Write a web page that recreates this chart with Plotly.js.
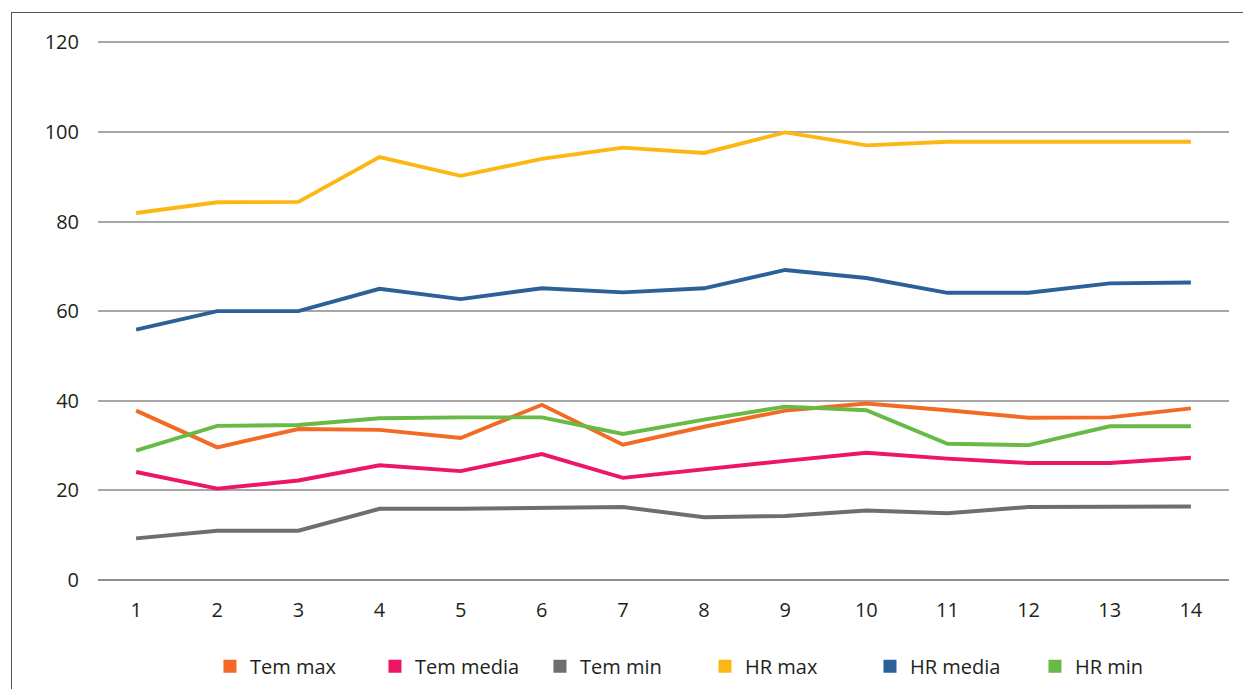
<!DOCTYPE html>
<html>
<head>
<meta charset="utf-8">
<script src="https://cdn.plot.ly/plotly-3.0.1.min.js"></script>
<style>
  html, body { margin: 0; padding: 0; background: #ffffff; overflow: hidden; }
  #frame { position: absolute; left: 11px; top: 12px; width: 1232px; height: 720px;
           border-left: 1.5px solid #555; border-top: 1.5px solid #555; box-sizing: border-box; }
  #chart { width: 1230px; height: 715px; }
</style>
</head>
<body>
<div id="frame"><div id="chart"></div></div>
<script>
// Categories (days)
const days = [1, 2, 3, 4, 5, 6, 7, 8, 9, 10, 11, 12, 13, 14];
const tickLabels = ["1","2","3","4","5","6","7","8","9","10","11","12","13","14"];

// Series values
const temMax   = [37.8, 29.6, 33.7, 33.5, 31.7, 39.1, 30.2, 34.2, 37.8, 39.4, 37.9, 36.2, 36.3, 38.3];
const temMedia = [24.1, 20.4, 22.2, 25.6, 24.3, 28.1, 22.8, 24.8, 26.6, 28.4, 27.1, 26.1, 26.1, 27.3];
const temMin   = [9.3, 11.0, 11.0, 15.9, 15.9, 16.1, 16.3, 14.0, 14.3, 15.5, 14.9, 16.3, 16.4, 16.4];
const hrMax    = [81.9, 84.3, 84.4, 94.4, 90.2, 94.0, 96.5, 95.3, 99.9, 97.0, 97.8, 97.8, 97.8, 97.8];
const hrMedia  = [55.9, 60.0, 60.0, 65.0, 62.7, 65.1, 64.2, 65.1, 69.2, 67.4, 64.1, 64.1, 66.2, 66.4];
const hrMin    = [28.9, 34.4, 34.6, 36.1, 36.3, 36.3, 32.6, 35.8, 38.7, 37.9, 30.4, 30.1, 34.3, 34.3];

const seriesNames  = ["Tem max", "Tem media", "Tem min", "HR max", "HR media", "HR min"];
const seriesValues = [temMax, temMedia, temMin, hrMax, hrMedia, hrMin];
const seriesColors = ["#F26A23", "#EC1566", "#6D6E72", "#FDB714", "#2C6198", "#67BA45"];

const traces = [];
// The lines
seriesValues.forEach((vals, i) => {
  traces.push({
    x: days, y: vals, type: "scatter", mode: "lines",
    name: seriesNames[i], legendgroup: seriesNames[i], showlegend: false,
    line: { color: seriesColors[i], width: 3.9 },
    hoverinfo: "x+y+name"
  });
});
// Legend entries drawn as square swatches (no data drawn)
seriesNames.forEach((nm, i) => {
  traces.push({
    x: [null], y: [null], type: "scatter", mode: "markers",
    name: nm, legendgroup: nm, showlegend: true,
    marker: { symbol: "square", size: 13, color: seriesColors[i] }
  });
});

const layout = {
  width: 1230, height: 715,
  margin: { l: 86, r: 13, t: 28, b: 148 },
  paper_bgcolor: "#ffffff", plot_bgcolor: "#ffffff",
  font: { family: "Open Sans, sans-serif", size: 20, color: "#231F20" },
  showlegend: true,
  legend: {
    orientation: "h", x: 0.099, xanchor: "left", y: -0.16, yanchor: "middle",
    font: { family: "Open Sans, sans-serif", size: 20, color: "#231F20" },
    entrywidth: 120, entrywidthmode: "pixels",
    traceorder: "normal", itemclick: false
  },
  xaxis: {
    range: [0.53, 14.47],
    tickmode: "array", tickvals: days, ticktext: tickLabels,
    showgrid: false, zeroline: false, showline: false, ticks: "",
    ticklabelstandoff: 16,
    tickfont: { size: 20 }
  },
  yaxis: {
    range: [0, 120.3], tickmode: "array", tickvals: [0, 20, 40, 60, 80, 100, 120],
    showgrid: true, gridcolor: "#A7A7A7", gridwidth: 1.6,
    zeroline: true, zerolinecolor: "#8E8E8E", zerolinewidth: 1.8,
    showline: false, ticks: "",
    ticklabelstandoff: 18,
    tickfont: { size: 20 }
  }
};

Plotly.newPlot("chart", traces, layout, { displayModeBar: false });
</script>
</body>
</html>
